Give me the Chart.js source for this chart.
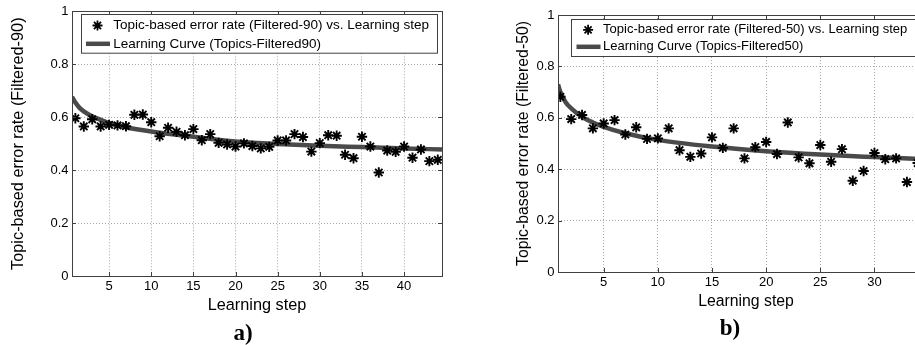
<!DOCTYPE html>
<html>
<head>
<meta charset="utf-8">
<script src="https://cdn.jsdelivr.net/npm/chart.js@4.4.1/dist/chart.umd.min.js"></script>
<style>
  html, body { margin: 0; padding: 0; background: #fff; width: 915px; height: 345px; overflow: hidden; }
  .panel { position: absolute; top: 0; height: 345px; }
  #panelA { left: 0; width: 457px; }
  #panelB { left: 457px; width: 500px; }
  .tag { position: absolute; font: bold 23px "Liberation Serif", serif; color: #000; transform: translate(-50%, -50%); }
</style>
</head>
<body>
<div class="panel" id="panelA"><canvas id="chartA" width="457" height="345"></canvas></div>
<div class="panel" id="panelB"><canvas id="chartB" width="500" height="345"></canvas></div>
<div class="tag" style="left:243px; top:333px;">a)</div>
<div class="tag" style="left:730px; top:328px;">b)</div>
<script>
// a) Filtered-90
const stepsA = [1,2,3,4,5,6,7,8,9,10,11,12,13,14,15,16,17,18,19,20,21,22,23,24,25,26,27,28,29,30,31,32,33,34,35,36,37,38,39,40,41,42,43,44];
const errorA = [0.596,0.565,0.592,0.565,0.571,0.569,0.566,0.609,0.610,0.581,
                0.528,0.560,0.545,0.532,0.555,0.513,0.536,0.503,0.497,0.489,
                0.501,0.491,0.482,0.488,0.512,0.512,0.536,0.525,0.470,0.502,
                0.532,0.530,0.458,0.445,0.526,0.489,0.391,0.474,0.469,0.489,
                0.447,0.478,0.434,0.439];
const curveStepsA = [0.6,1,1.5,2,3,4,5,7,10,15,20,25,30,35,40,44.5];
const curveA = [0.677,0.655,0.635,0.622,0.603,0.590,0.578,0.562,0.546,0.526,0.508,0.499,0.492,0.487,0.482,0.478];
const xTicksA = [5,10,15,20,25,30,35,40];

// b) Filtered-50
const stepsB = [1,2,3,4,5,6,7,8,9,10,11,12,13,14,15,16,17,18,19,20,21,22,23,24,25,26,27,28,29,30,31,32,33,34];
const errorB = [0.682,0.595,0.611,0.559,0.578,0.591,0.535,0.563,0.518,0.520,
                0.559,0.474,0.448,0.461,0.524,0.483,0.559,0.442,0.486,0.506,
                0.459,0.582,0.446,0.423,0.494,0.429,0.478,0.355,0.393,0.463,
                0.439,0.442,0.350,0.424];
const curveStepsB = [0.78,1,1.5,2,3,4,5,7,10,15,20,25,30,35.5];
const curveB = [0.730,0.700,0.660,0.637,0.604,0.582,0.565,0.540,0.514,0.488,0.470,0.457,0.447,0.437];
const xTicksB = [5,10,15,20,25,30,35];

const yTicks = [0,0.2,0.4,0.6,0.8,1];

const FONT = '"Liberation Sans", Arial, sans-serif';
const FRAME = '#404040';

// box round the plot area with small inward ticks, like matlab
const framePlugin = {
  id: 'frame',
  afterDraw(chart) {
    const {ctx, chartArea: a, scales} = chart;
    ctx.save();
    ctx.strokeStyle = FRAME;
    ctx.lineWidth = 1;
    ctx.beginPath();
    scales.x.ticks.forEach(t => {
      const px = Math.round(scales.x.getPixelForValue(t.value)) + 0.5;
      ctx.moveTo(px, a.bottom); ctx.lineTo(px, a.bottom - 4);
      ctx.moveTo(px, a.top); ctx.lineTo(px, a.top + 4);
    });
    scales.y.ticks.forEach(t => {
      const py = Math.round(scales.y.getPixelForValue(t.value)) + 0.5;
      ctx.moveTo(a.left, py); ctx.lineTo(a.left + 4, py);
      ctx.moveTo(a.right, py); ctx.lineTo(a.right - 4, py);
    });
    ctx.stroke();
    ctx.strokeRect(Math.round(a.left) + 0.5, Math.round(a.top) + 0.5,
                   Math.round(a.right - a.left), Math.round(a.bottom - a.top));
    ctx.restore();
  }
};

// legend drawn inside the axes, top left
const boxLegend = {
  id: 'boxLegend',
  afterDraw(chart, args, o) {
    const {ctx, chartArea: a} = chart;
    const ds = chart.data.datasets;
    ctx.save();
    ctx.font = o.fontSize + 'px ' + FONT;
    const tw = Math.max(...ds.map(d => ctx.measureText(d.label).width));
    const left = Math.round(a.left + o.dx) + 0.5;
    const top = Math.round(a.top + o.dy) + 0.5;
    const w = Math.round(o.textX + tw + 8);
    ctx.fillStyle = '#fff';
    ctx.fillRect(left, top, w, o.h);
    ctx.strokeStyle = FRAME;
    ctx.lineWidth = 1;
    ctx.strokeRect(left, top, w, o.h);

    // star marker
    const sx = left + o.markX, sy = top + o.row1, r = 5;
    ctx.strokeStyle = '#000';
    ctx.lineWidth = 1.8;
    ctx.beginPath();
    for (let k = 0; k < 4; k++) {
      const ang = k * Math.PI / 4;
      ctx.moveTo(sx - r * Math.cos(ang), sy - r * Math.sin(ang));
      ctx.lineTo(sx + r * Math.cos(ang), sy + r * Math.sin(ang));
    }
    ctx.stroke();

    // line sample
    ctx.strokeStyle = ds[1].borderColor;
    ctx.lineWidth = ds[1].borderWidth;
    ctx.beginPath();
    ctx.moveTo(left + o.lineX0, top + o.row2);
    ctx.lineTo(left + o.lineX1, top + o.row2);
    ctx.stroke();

    ctx.fillStyle = '#000';
    ctx.textBaseline = 'middle';
    ctx.textAlign = 'left';
    ctx.fillText(ds[0].label, left + o.textX, top + o.row1);
    ctx.fillText(ds[1].label, left + o.textX, top + o.row2);
    ctx.restore();
  }
};

function buildChart(id, s) {
  return new Chart(document.getElementById(id), {
    type: 'scatter',
    data: {
      datasets: [
        {
          label: s.starLabel,
          data: s.steps.map((x, i) => ({x: x, y: s.errors[i]})),
          pointStyle: 'star',
          pointRadius: 5.2,
          pointBorderWidth: 1.9,
          pointBorderColor: '#000',
          pointBackgroundColor: '#000',
          showLine: false,
          order: 0
        },
        {
          label: s.curveLabel,
          data: s.curveX.map((x, i) => ({x: x, y: s.curveY[i]})),
          showLine: true,
          pointRadius: 0,
          borderColor: '#4a4a4a',
          borderWidth: 4.5,
          cubicInterpolationMode: 'monotone',
          order: 1
        }
      ]
    },
    options: {
      responsive: false,
      animation: false,
      events: [],
      layout: { padding: { left: 0, top: s.top, right: s.padRight, bottom: 0 } },
      plugins: {
        legend: { display: false },
        tooltip: { enabled: false },
        boxLegend: s.legend
      },
      scales: {
        x: {
          type: 'linear',
          min: s.xMin,
          max: s.xMax,
          afterBuildTicks: sc => { sc.ticks = s.xTicks.map(v => ({value: v})); },
          afterFit: sc => { sc.height = s.xAxisH; },
          grid: { color: '#a8a8a8', lineWidth: 1, drawTicks: false },
          border: { display: false, dash: [1, 2] },
          ticks: { padding: 3, color: '#000', font: { family: FONT, size: 13 }, maxRotation: 0 },
          title: { display: true, text: 'Learning step', color: '#000',
                   font: { family: FONT, size: s.titleSize }, padding: { top: 0, bottom: s.xTitlePad } }
        },
        y: {
          type: 'linear',
          min: 0,
          max: 1,
          afterBuildTicks: sc => { sc.ticks = yTicks.map(v => ({value: v})); },
          afterFit: sc => { sc.width = s.yAxisW; },
          grid: { color: '#a8a8a8', lineWidth: 1, drawTicks: false },
          border: { display: false, dash: [1, 2] },
          ticks: { padding: 3.5, color: '#000', font: { family: FONT, size: 13 }, callback: v => String(v) },
          title: { display: true, text: s.yTitle, color: '#000',
                   font: { family: FONT, size: s.titleSize }, padding: { top: s.yTitlePad, bottom: 0 } }
        }
      }
    },
    plugins: [framePlugin, boxLegend]
  });
}

buildChart('chartA', {
  steps: stepsA, errors: errorA, curveX: curveStepsA, curveY: curveA, xTicks: xTicksA,
  starLabel: 'Topic-based error rate (Filtered-90) vs. Learning step',
  curveLabel: 'Learning Curve (Topics-Filtered90)',
  yTitle: 'Topic-based error rate (Filtered-90)',
  xMin: 0.6, xMax: 44.5,
  top: 11, padRight: 15, yAxisW: 72, xAxisH: 69,
  titleSize: 16.3, xTitlePad: 29.7, yTitlePad: 8.7,
  legend: { dx: 9.4, dy: 3, h: 38.7, row1: 11, row2: 29.3, markX: 16, lineX0: 4.5, lineX1: 28.5, textX: 31.7, fontSize: 13.5 }
});

buildChart('chartB', {
  steps: stepsB, errors: errorB, curveX: curveStepsB, curveY: curveB, xTicks: xTicksB,
  starLabel: 'Topic-based error rate (Filtered-50) vs. Learning step',
  curveLabel: 'Learning Curve (Topics-Filtered50)',
  yTitle: 'Topic-based error rate (Filtered-50)',
  xMin: 0.78, xMax: 35.5,
  top: 15, padRight: 23, yAxisW: 101, xAxisH: 73,
  titleSize: 15.8, xTitlePad: 33.7, yTitlePad: 56.8,
  legend: { dx: 13.4, dy: 4, h: 37, row1: 10.3, row2: 27.3, markX: 16.6, lineX0: 5, lineX1: 29, textX: 31.6, fontSize: 13 }
});
</script>
</body>
</html>
